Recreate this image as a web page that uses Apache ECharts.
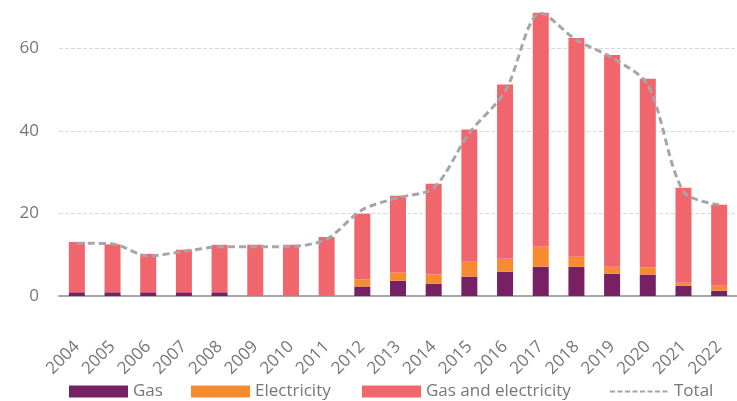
<!DOCTYPE html>
<html>
<head>
<meta charset="utf-8">
<script src="https://cdn.jsdelivr.net/npm/echarts@6/dist/echarts.min.js"></script>
<style>
html,body{margin:0;padding:0;background:#fff;}
#chart{width:737px;height:401px;}
</style>
</head>
<body>
<div id="chart"></div>
<script>
const years = ['2004','2005','2006','2007','2008','2009','2010','2011','2012','2013','2014','2015','2016','2017','2018','2019','2020','2021','2022'];
const gas = [0.9,0.9,0.9,0.9,0.9,0,0,0,2.3,3.7,3.0,4.7,5.9,7.1,7.1,5.4,5.2,2.5,1.3];
const electricity = [0,0,0,0,0,0,0,0,1.7,2.0,2.2,3.6,3.1,4.8,2.4,1.7,1.7,0.7,1.2];
const gasAndElectricity = [12.2,11.6,9.3,10.3,11.5,12.4,12.4,14.3,15.9,18.6,22.0,32.0,42.2,56.7,53.0,51.3,45.7,23.0,19.6];
const total = [12.8,12.6,9.7,10.8,11.9,11.9,12.0,13.8,20.9,23.8,26.2,39.5,49.5,68.5,62.0,57.7,51.1,25.3,22.1];
const yTicks = [0,20,40,60];

const fontFamily = '"Open Sans", "Noto Sans", sans-serif';
const textColor = '#767676';

const legendBase = {
  bottom: 1,
  padding: 0,
  itemWidth: 59,
  itemHeight: 12,
  textStyle: {fontFamily: fontFamily, fontSize: 17, color: textColor}
};
const legendItems = [
  {name: 'Gas', icon: 'rect', left: 69},
  {name: 'Electricity', icon: 'rect', left: 191},
  {name: 'Gas and electricity', icon: 'rect', left: 362},
  {name: 'Total', left: 609, itemStyle: {opacity: 0}, lineStyle: {width: 2, type: [5, 2.5], color: '#a6a6a6'}}
];

const chart = echarts.init(document.getElementById('chart'));
chart.setOption({
  animation: false,
  textStyle: {fontFamily: fontFamily},
  grid: {left: 59, right: -10, top: 7, bottom: 105, containLabel: false},
  legend: legendItems.map(function (it) {
    const d = {name: it.name};
    if (it.icon) d.icon = it.icon;
    if (it.itemStyle) d.itemStyle = it.itemStyle;
    if (it.lineStyle) d.lineStyle = it.lineStyle;
    return Object.assign({}, legendBase, {left: it.left, data: [d]});
  }),
  xAxis: {
    type: 'category',
    data: years,
    axisLine: {lineStyle: {color: '#a6a6a6', width: 2}},
    axisTick: {show: false},
    axisLabel: {rotate: 45, fontSize: 17, color: textColor, margin: 48, interval: 0, fontFamily: fontFamily}
  },
  yAxis: {
    type: 'value',
    min: yTicks[0],
    max: 70,
    interval: 20,
    axisLine: {show: false},
    axisTick: {show: false},
    axisLabel: {fontSize: 17, color: textColor, margin: 20, showMaxLabel: false, fontFamily: fontFamily},
    splitLine: {show: true, showMaxLine: false, lineStyle: {color: '#d9d9d9', type: 'dashed', width: 1}}
  },
  series: [
    {name: 'Gas', type: 'bar', stack: 's', barWidth: 16, data: gas, itemStyle: {color: '#772063'}},
    {name: 'Electricity', type: 'bar', stack: 's', barWidth: 16, data: electricity, itemStyle: {color: '#f68b30'}},
    {name: 'Gas and electricity', type: 'bar', stack: 's', barWidth: 16, data: gasAndElectricity, itemStyle: {color: '#f1666d'}},
    {name: 'Total', type: 'line', data: total, smooth: 0.3, symbol: 'none',
     lineStyle: {color: '#a6a6a6', width: 3, type: [7, 4]}, itemStyle: {color: '#a6a6a6'}, z: 5}
  ]
});
</script>
</body>
</html>
